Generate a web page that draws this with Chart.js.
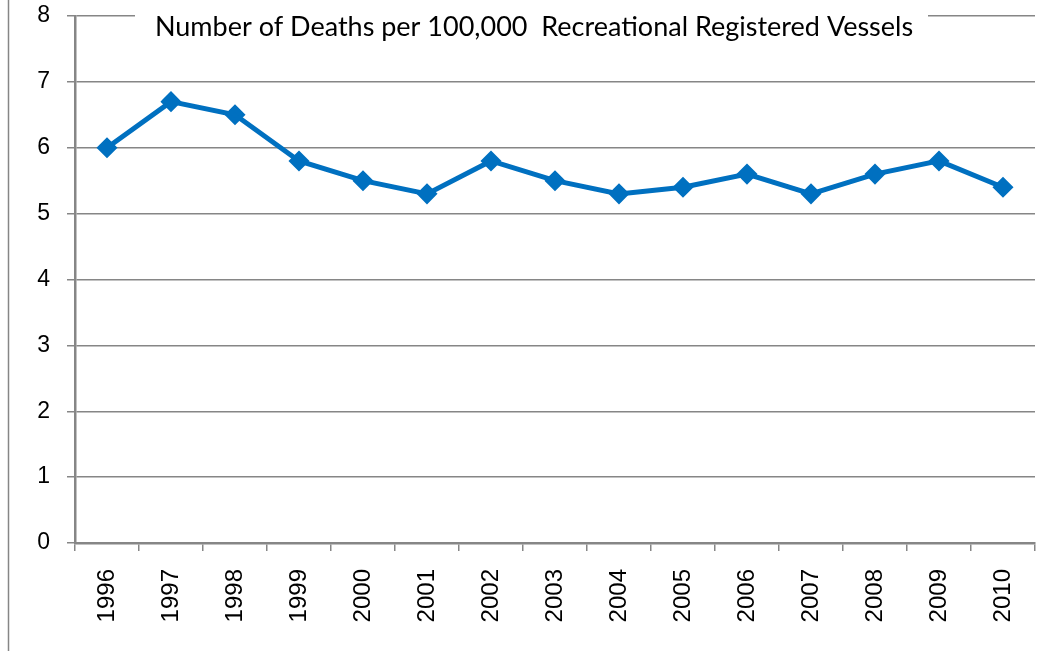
<!DOCTYPE html>
<html>
<head>
<meta charset="utf-8">
<script src="https://cdn.jsdelivr.net/npm/chart.js@4"></script>
<style>
  html, body { margin: 0; padding: 0; background: #fff; }
  #wrap { width: 1057px; height: 651px; }
</style>
</head>
<body>
<div id="wrap"><canvas id="deathsChart"></canvas></div>
<script>
const years = ["1996", "1997", "1998", "1999", "2000", "2001", "2002", "2003",
    "2004", "2005", "2006", "2007", "2008", "2009", "2010"];
const deathRate = [6.0, 6.7, 6.5, 5.8, 5.5, 5.3, 5.8, 5.5, 5.3, 5.4, 5.6, 5.3, 5.6, 5.8, 5.4];
const titleText = "Number of Deaths per 100,000  Recreational Registered Vessels";

const axisGray = '#868686';

// title sits inside the plot, on a white box over the top gridline
const insideTitle = {
    id: 'insideTitle',
    afterDraw(chart) {
        const c = chart.ctx;
        c.save();
        c.fillStyle = '#fff';
        c.fillRect(135, 2, 793, 34);
        c.font = '27px Lato, "Open Sans", sans-serif';
        c.fillStyle = '#000';
        c.textAlign = 'center';
        c.textBaseline = 'middle';
        c.fillText(titleText, 534, 27);
        c.restore();
    }
};

// thin frame line down the left side
const leftFrame = {
    id: 'leftFrame',
    beforeDraw(chart) {
        const c = chart.ctx;
        c.save();
        c.strokeStyle = axisGray;
        c.lineWidth = 1.5;
        c.beginPath();
        c.moveTo(8.5, 0);
        c.lineTo(8.5, 651);
        c.stroke();
        c.restore();
    }
};

new Chart(document.getElementById('deathsChart'), {
    type: 'line',
    data: {
        labels: years,
        datasets: [{
            data: deathRate,
            borderColor: '#0070C0',
            backgroundColor: '#0070C0',
            borderWidth: 5,
            tension: 0,
            pointStyle: 'rectRot',
            pointRadius: 7,
            pointHoverRadius: 7
        }]
    },
    options: {
        responsive: true,
        maintainAspectRatio: false,
        animation: false,
        layout: { padding: { top: 16, right: 22, left: 0, bottom: 0 } },
        plugins: {
            legend: { display: false },
            title: { display: false },
            tooltip: { enabled: false }
        },
        scales: {
            x: {
                offset: true,
                afterFit(scale) {
                    scale.height = 108;
                    scale.paddingLeft = 0;
                    scale.paddingRight = 0;
                },
                grid: {
                    offset: true,
                    drawOnChartArea: false,
                    color: axisGray,
                    lineWidth: 1.5,
                    tickLength: 8
                },
                border: { color: axisGray, width: 2.5 },
                ticks: {
                    color: '#000',
                    font: { family: '"Liberation Sans", Arial, sans-serif', size: 24 },
                    minRotation: 90,
                    maxRotation: 90,
                    padding: 18
                }
            },
            y: {
                min: 0,
                max: 8,
                afterFit(scale) {
                    scale.width = 75;
                    scale.paddingTop = 0;
                    scale.paddingBottom = 0;
                },
                grid: {
                    color: axisGray,
                    lineWidth: 1.5,
                    tickLength: 8
                },
                border: { color: axisGray, width: 2.5 },
                ticks: {
                    stepSize: 1,
                    color: '#000',
                    font: { family: '"Liberation Sans", Arial, sans-serif', size: 23 },
                    padding: 17
                }
            }
        }
    },
    plugins: [leftFrame, insideTitle]
});
</script>
</body>
</html>
